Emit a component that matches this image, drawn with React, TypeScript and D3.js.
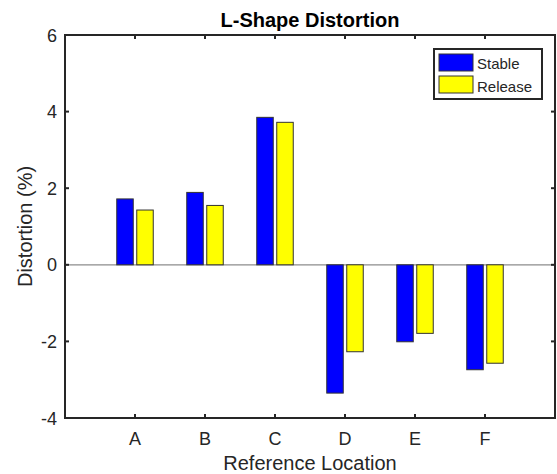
import React from "react";
import * as d3 from "d3";

const categories = ["A", "B", "C", "D", "E", "F"];
const stableValues = [1.72, 1.89, 3.85, -3.35, -2.01, -2.74];
const releaseValues = [1.43, 1.55, 3.72, -2.27, -1.79, -2.57];
const seriesNames = ["Stable", "Release"];
const seriesColors = ["#0000ff", "#ffff00"];
const yTicks = [-4, -2, 0, 2, 4, 6];

const W = 557;
const H = 474;
const left = 65;
const right = 555;
const top = 35;
const bottom = 418;
const font = "'Liberation Sans', Arial, Helvetica, sans-serif";
const axisColor = "#262626";

export default function App() {
  const x = d3.scaleLinear().domain([0, categories.length + 1]).range([left, right]);
  const y = d3.scaleLinear().domain([-4, 6]).range([bottom, top]);
  const barW = 16.5;
  const offset = 10;
  const series = [stableValues, releaseValues];
  const tick = 4;

  return (
    <svg width={W} height={H} style={{ position: "absolute", left: 0, top: 0, background: "#fff" }}>
      <rect x={0} y={0} width={W} height={H} fill="#fff" />
      {/* zero line */}
      <line x1={left} x2={right} y1={y(0)} y2={y(0)} stroke="#8c8c8c" strokeWidth={1.2} />
      {/* bars */}
      {series.map((vals, si) =>
        vals.map((v, i) => {
          const cx = x(i + 1) + (si === 0 ? -offset : offset);
          const y0 = y(Math.max(0, v));
          const y1 = y(Math.min(0, v));
          return (
            <rect
              key={`${si}-${i}`}
              x={cx - barW / 2}
              y={y0}
              width={barW}
              height={y1 - y0}
              fill={seriesColors[si]}
              stroke="#333"
              strokeWidth={1}
            />
          );
        })
      )}
      {/* axes box */}
      <rect x={left} y={top} width={right - left} height={bottom - top} fill="none" stroke={axisColor} strokeWidth={2} />
      {/* x ticks */}
      {categories.map((c, i) => (
        <g key={c}>
          <line x1={x(i + 1)} x2={x(i + 1)} y1={bottom} y2={bottom - tick} stroke={axisColor} strokeWidth={2} />
          <line x1={x(i + 1)} x2={x(i + 1)} y1={top} y2={top + tick} stroke={axisColor} strokeWidth={2} />
          <text x={x(i + 1)} y={445} textAnchor="middle" fontFamily={font} fontSize={18} fill={axisColor}>
            {c}
          </text>
        </g>
      ))}
      {/* y ticks */}
      {yTicks.map((t) => (
        <g key={t}>
          <line x1={left} x2={left + tick} y1={y(t)} y2={y(t)} stroke={axisColor} strokeWidth={2} />
          <line x1={right} x2={right - tick} y1={y(t)} y2={y(t)} stroke={axisColor} strokeWidth={2} />
          <text x={57} y={y(t) + 6.5} textAnchor="end" fontFamily={font} fontSize={18} fill={axisColor}>
            {t}
          </text>
        </g>
      ))}
      {/* title */}
      <text x={(left + right) / 2} y={27} textAnchor="middle" fontFamily={font} fontSize={20} fontWeight="bold" fill="#000">
        L-Shape Distortion
      </text>
      {/* axis labels */}
      <text x={(left + right) / 2} y={470} textAnchor="middle" fontFamily={font} fontSize={20} fill={axisColor}>
        Reference Location
      </text>
      <text
        transform={`translate(32, ${(top + bottom) / 2}) rotate(-90)`}
        textAnchor="middle"
        fontFamily={font}
        fontSize={20}
        fill={axisColor}
      >
        Distortion (%)
      </text>
      {/* legend */}
      <g>
        <rect x={434} y={49} width={108} height={50} fill="#fff" stroke={axisColor} strokeWidth={2} />
        {seriesNames.map((n, i) => (
          <g key={n}>
            <rect x={439} y={54 + i * 22} width={34} height={17} fill={seriesColors[i]} stroke="#333" strokeWidth={1} />
            <text x={477} y={69 + i * 22.5} fontFamily={font} fontSize={15} fill={axisColor}>
              {n}
            </text>
          </g>
        ))}
      </g>
    </svg>
  );
}
